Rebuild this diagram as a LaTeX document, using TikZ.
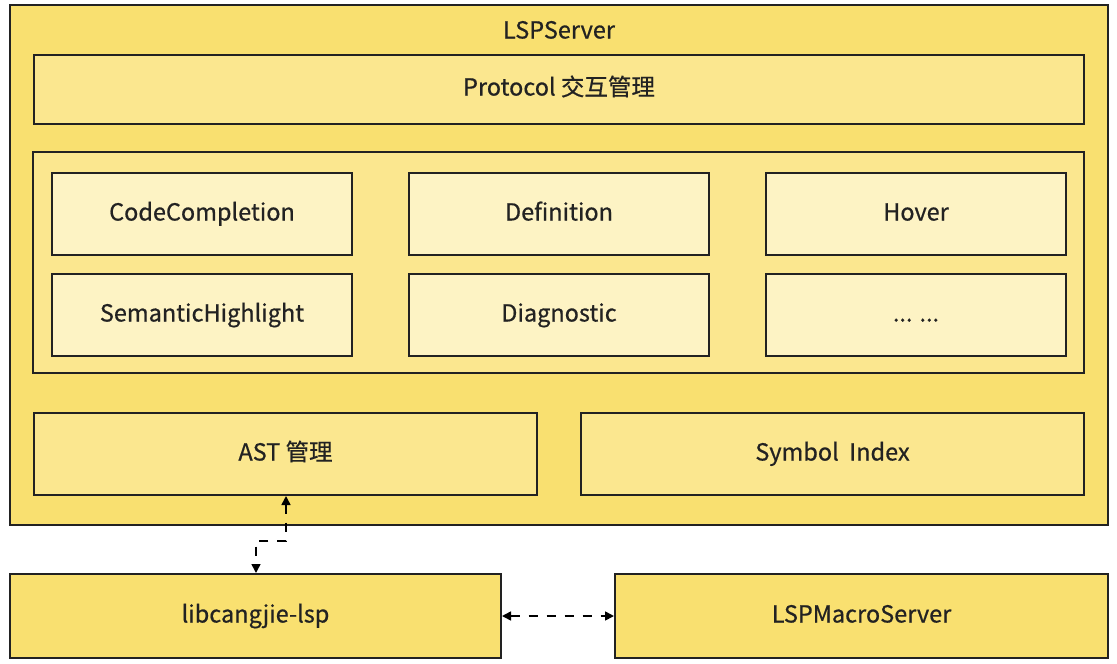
\documentclass[tikz,border=0pt]{standalone}
\usepackage{fontspec}
\setmainfont{Noto Sans CJK SC}[FakeBold=0.6]
\usetikzlibrary{positioning, arrows.meta}

\definecolor{outerfill}{HTML}{F9E070}
\definecolor{midfill}{HTML}{FBE78F}
\definecolor{innerfill}{HTML}{FDF3C4}
\definecolor{edgecol}{HTML}{222222}

\tikzset{
  label font/.style={font=\fontsize{23.5}{28}\selectfont, text=edgecol, text height=1.5em, text depth=0.2em},
  box/.style={draw=edgecol, line width=2pt, inner sep=0pt, label font},
  mod/.style={box, fill=innerfill, minimum width=300pt, minimum height=82pt},
  link/.style={draw=black, line width=1.6pt, dash pattern=on 9pt off 9pt, {Triangle[length=9pt,width=9pt]}-{Triangle[length=9pt,width=9pt]}}
}

\begin{document}
\begin{tikzpicture}[x=1pt, y=-1pt]
        \useasboundingbox (0,0) rectangle (1117,664);
        % Define the outer server box
        \node[box, fill=outerfill, minimum width=1098pt, minimum height=520pt] (server) at (559,265) {};
        \node[label font, inner sep=0pt] (title) at (559,32) {LSPServer};
        \node[box, fill=midfill, minimum width=1050pt, minimum height=69pt] (proto) at (559,89) {Protocol 交互管理};
        \node[box, fill=midfill, minimum width=1051pt, minimum height=221pt] (feat) at (558.5,262.5) {};
        % Define the feature modules
        \node[mod] (compl) at (202,214) {CodeCompletion};
        \node[mod] (defn) at (559,214) {Definition};
        \node[mod] (hover) at (916,214) {Hover};
        \node[mod] (sema) at (202,315) {SemanticHighlight};
        \node[mod] (diag) at (559,315) {Diagnostic};
        \node[mod] (more) at (916,315) {... ...};
        % Define the bottom managers
        \node[box, fill=midfill, minimum width=503pt, minimum height=82pt] (ast) at (285.5,454) {AST 管理};
        \node[box, fill=midfill, minimum width=503pt, minimum height=82pt] (index) at (832.5,454) {Symbol\ \ Index};
        % Define the outside libraries
        \node[box, fill=outerfill, minimum width=491pt, minimum height=84pt] (lib) at (255.5,616) {libcangjie-lsp};
        \node[box, fill=outerfill, minimum width=493pt, minimum height=84pt] (macro) at (861.5,616) {LSPMacroServer};
        % Define the connections
        \coordinate (bend) at (256,541);
        \draw[link] (ast.south -| 286,0) |- (bend) -- (lib.north -| bend);
        \draw[link] (lib) -- (macro);
\end{tikzpicture}
\end{document}
